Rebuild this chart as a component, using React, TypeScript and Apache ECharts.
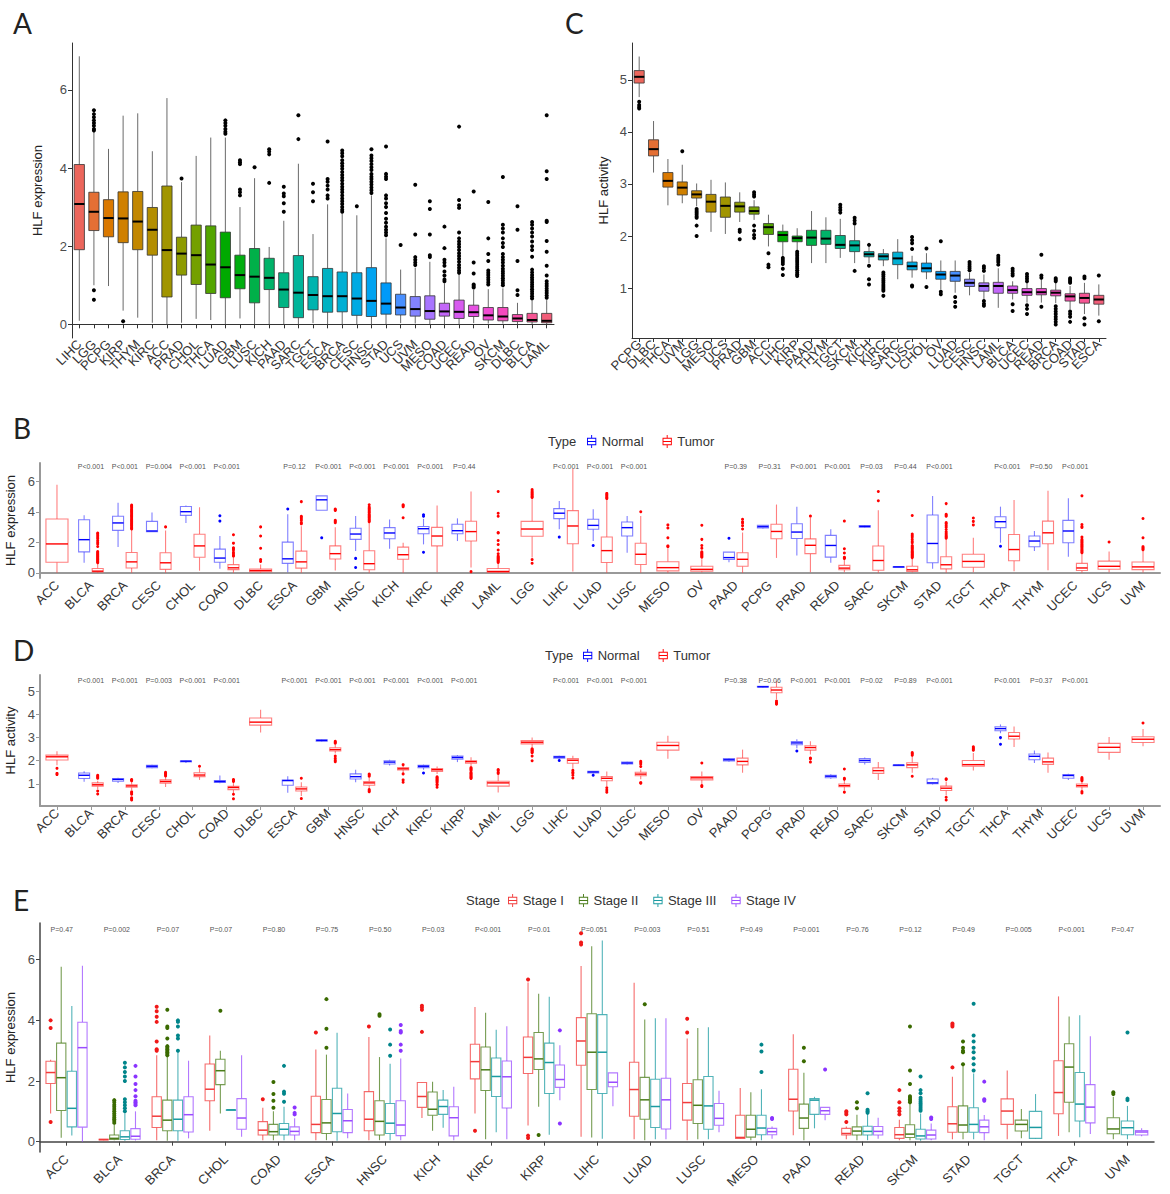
import React, { useEffect, useRef } from 'react';
import * as echarts from 'echarts';

// ---------- Panel A: HLF expression by cancer type ----------
const catsA = ['LIHC','LGG','PCPG','KIRP','THYM','KIRC','ACC','PRAD','CHOL','THCA','LUAD','GBM','LUSC','KICH','PAAD','SARC','TGCT','ESCA','BRCA','CESC','HNSC','STAD','UCS','UVM','MESO','COAD','UCEC','READ','OV','SKCM','DLBC','BLCA','LAML'];
// [low whisker, Q1, median, Q3, high whisker]
const boxA = [
  [0.09,1.91,3.08,4.09,6.86],[1.0,2.40,2.88,3.38,4.94],[0.98,2.24,2.72,3.19,4.49],[0.35,2.09,2.71,3.39,5.34],
  [0.17,1.91,2.63,3.40,5.40],[0.04,1.77,2.42,2.99,4.43],[0.0,0.70,1.90,3.54,5.79],[0.04,1.26,1.81,2.23,3.64],
  [0.14,1.02,1.77,2.54,4.31],[0.11,0.79,1.53,2.52,4.78],[0.0,0.68,1.46,2.36,4.78],[0.15,0.91,1.26,1.77,3.0],
  [0.0,0.55,1.22,1.94,3.74],[0.0,0.89,1.19,1.69,1.98],[0.0,0.43,0.89,1.32,2.65],[0.0,0.17,0.81,1.76,4.11],
  [0.03,0.37,0.75,1.22,2.31],[0.0,0.31,0.72,1.43,3.07],[0.0,0.32,0.72,1.34,2.83],[0.0,0.23,0.66,1.32,2.79],
  [0.0,0.2,0.60,1.45,3.3],[0.0,0.26,0.53,1.06,2.2],[0.03,0.24,0.43,0.77,1.4],[0.02,0.21,0.39,0.71,1.45],
  [0.0,0.13,0.34,0.73,1.6],[0.0,0.21,0.33,0.54,1.05],[0.0,0.15,0.32,0.62,1.3],[0.03,0.2,0.31,0.49,0.88],
  [0.02,0.11,0.23,0.43,0.9],[0.02,0.09,0.2,0.43,0.92],[0.0,0.07,0.15,0.25,0.55],[0.0,0.06,0.11,0.28,0.6],
  [0.0,0.04,0.09,0.28,0.62]
];
const outA = [
  [],[5.48,5.38,5.3,5.22,5.15,5.08,5.0,4.96,0.87,0.63],[],[0.08],[],[],[],[3.73],[],[],
  [5.22,5.15,5.08,5.0,4.93,4.88],[4.2,4.15,4.1,3.45,3.38,3.3],[4.02],[4.48,4.42,4.35,3.62],
  [3.52,3.35,3.28,3.1,2.88],[5.35,4.74],[3.6,3.38,3.15],[4.68,3.72,3.65,3.55,3.45,3.3,3.22],
  [4.45,4.38,4.3,4.2,4.12,4.05,3.98,3.9,3.82,3.75,3.68,3.6,3.52,3.45,3.38,3.3,3.22,3.15,3.08,3.0,2.93,2.88],
  [3.02],
  [4.48,4.32,4.25,4.18,4.1,4.02,3.95,3.85,3.78,3.72,3.65,3.58,3.5,3.43,3.36],
  [4.55,3.85,3.78,3.72,3.3,3.22,3.1,3.0,2.85,2.7,2.6,2.5,2.42,2.35,2.28],
  [2.03],[3.57,2.3,1.72,1.65,1.58,1.52],[3.15,2.95,2.3,1.77,1.72],[2.5,1.95,1.65,1.58,1.5,1.35,1.25,1.15,1.1],
  [5.06,3.18,3.05,2.98,2.35,2.2,2.12,2.05,1.98,1.9,1.82,1.75,1.68,1.6,1.52,1.45,1.38,1.32],
  [3.4,1.58,1.3,1.02,0.98,0.94],
  [3.13,2.2,1.8,1.62,1.38,1.32,1.26,1.2,1.14,1.08,1.02],
  [3.77,2.55,2.45,2.35,2.2,2.08,1.98,1.8,1.72,1.65,1.58,1.5,1.42,1.36,1.3,1.24,1.18,1.12,1.06,1.0],
  [3.02,2.42,1.62,0.87,0.75],
  [2.62,2.55,2.45,2.35,2.25,2.12,2.0,1.9,1.73,1.4,1.33,1.26,1.2,1.14,1.08,1.02,0.96,0.9,0.84,0.78,0.72,0.66],
  [5.35,3.92,3.72,2.65,2.62,2.13,1.86,1.5,1.25,1.1,1.04,0.98,0.92,0.86,0.8,0.74,0.68]
];
const ticksA = [0, 2, 4, 6];

// ---------- Panel C: HLF activity by cancer type ----------
const catsC = ['PCPG','DLBC','THCA','UVM','LGG','MESO','UCS','PRAD','GBM','ACC','LIHC','KIRP','PAAD','THYM','TGCT','SKCM','KICH','KIRC','SARC','LUSC','CHOL','OV','LUAD','CESC','HNSC','LAML','BLCA','UCEC','READ','BRCA','COAD','STAD','ESCA'];
const boxC = [
  [4.67,4.94,5.06,5.18,5.45],[3.22,3.54,3.67,3.85,4.21],[2.59,2.94,3.06,3.22,3.48],[2.63,2.79,2.93,3.04,3.37],
  [2.57,2.73,2.80,2.87,3.01],[2.08,2.46,2.66,2.80,3.08],[2.04,2.36,2.58,2.75,3.03],[2.27,2.46,2.57,2.65,2.84],
  [2.31,2.42,2.48,2.56,2.69],[1.80,2.03,2.17,2.24,2.41],[1.62,1.89,2.02,2.09,2.22],[1.74,1.89,1.96,2.0,2.15],
  [1.48,1.82,1.97,2.11,2.48],[1.48,1.84,1.95,2.11,2.36],[1.58,1.76,1.83,2.01,2.33],[1.48,1.70,1.82,1.91,2.2],
  [1.48,1.60,1.65,1.70,1.8],[1.42,1.54,1.61,1.66,1.75],[1.17,1.45,1.57,1.69,1.94],[1.2,1.35,1.42,1.50,1.62],
  [1.17,1.31,1.38,1.48,1.67],[0.97,1.17,1.26,1.32,1.53],[0.91,1.13,1.24,1.32,1.53],[0.86,1.03,1.10,1.17,1.29],
  [0.78,0.94,1.04,1.10,1.26],[0.62,0.90,1.04,1.11,1.38],[0.78,0.90,0.96,1.04,1.13],[0.72,0.86,0.92,0.99,1.1],
  [0.72,0.87,0.92,0.99,1.17],[0.71,0.85,0.91,0.96,1.11],[0.59,0.75,0.84,0.89,1.04],[0.5,0.71,0.81,0.90,1.1],
  [0.47,0.69,0.78,0.86,1.07]
];
const outC = [
  [4.58,4.52,4.48,4.45],[],[],[3.63],[2.52,2.48,2.45,2.42,2.38,2.35,2.2,2.0],[],[],[2.12,2.08,1.94],
  [2.84,2.8,2.76,2.2,2.1,2.02,1.96],[1.67,1.45,1.4],[1.58,1.54,1.5,1.46,1.37,1.25],
  [1.7,1.66,1.62,1.58,1.54,1.5,1.46,1.42,1.38,1.34,1.3,1.26,1.23],[],[],[2.6,2.55,2.5,2.45],
  [2.35,2.3,2.24,1.33],[1.83,1.43,1.17,1.07],[1.3,1.26,1.22,1.18,1.14,1.1,1.06,1.02,0.98,0.95,0.85],[],
  [1.98,1.92,1.86,1.75,1.05,1.03],[1.76,1.02],[1.9,0.93,0.88],[0.83,0.73,0.64],[1.5,1.46,1.42,1.38,1.34],
  [1.42,1.38,1.33,0.75,0.70,0.66],[1.62,1.58,1.54,1.5,1.45],[1.37,1.33,1.28,1.24,0.69,0.56],
  [1.27,1.22,1.18,1.13,0.67,0.6,0.5],[1.64,1.24,1.2,0.64],[1.19,1.16,1.13,0.65,0.6,0.55,0.5,0.45,0.4,0.35,0.3],
  [1.19,1.16,1.13,1.1,0.55,0.5,0.45,0.35],[1.22,1.19,0.42,0.3],[1.24,0.36]
];
const ticksC = [1, 2, 3, 4, 5];

// ---------- Panels B & D: Normal vs Tumor ----------
const catsBD = ['ACC','BLCA','BRCA','CESC','CHOL','COAD','DLBC','ESCA','GBM','HNSC','KICH','KIRC','KIRP','LAML','LGG','LIHC','LUAD','LUSC','MESO','OV','PAAD','PCPG','PRAD','READ','SARC','SKCM','STAD','TGCT','THCA','THYM','UCEC','UCS','UVM'];
const normalB: (number[] | null)[] = [
  null,[0.66,1.38,2.18,3.49,3.78],[1.69,2.79,3.28,3.72,4.6],[2.68,2.70,2.75,3.38,3.96],[3.28,3.78,4.02,4.36,4.42],
  [0.26,0.70,0.97,1.56,2.42],null,[0.04,0.62,0.92,2.02,3.85],[4.11,4.11,4.8,5.06,5.06],[1.43,2.2,2.55,2.93,3.74],
  [1.58,2.24,2.62,2.97,3.5],[1.87,2.57,2.9,3.05,3.55],[2.09,2.57,2.77,3.19,3.58],null,null,[2.86,3.56,3.92,4.22,4.72],
  [2.09,2.86,3.12,3.52,4.18],[1.32,2.42,2.97,3.34,3.74],null,null,[0.7,0.88,1.0,1.36,1.36],[2.92,2.95,3.03,3.12,3.14],
  [1.14,2.26,2.68,3.23,4.35],[0.66,1.03,1.8,2.46,2.86],[2.97,3.0,3.05,3.1,3.12],[0.38,0.38,0.39,0.4,0.4],
  [0.26,0.66,1.93,3.8,5.05],null,[1.98,2.97,3.36,3.69,4.35],[1.43,1.71,2.09,2.42,2.75],[1.05,1.98,2.75,3.45,4.9],null,null
];
const normalOutB = [
  [],[],[],[],[],[3.75,3.4],[],[4.2],[2.3],[0.95,0.35],[],[3.82,3.72,1.35],[],[],[],[2.35],[1.8],[],[],[],[2.27],[],[],[],[],[],[],[],[1.75],[],[],[],[]
];
const pB = ['','P<0.001','P<0.001','P=0.004','P<0.001','P<0.001','','P=0.12','P<0.001','P<0.001','P<0.001','P<0.001','P=0.44','','','P<0.001','P<0.001','P<0.001','','','P=0.39','P=0.31','P<0.001','P<0.001','P=0.03','P=0.44','P<0.001','','P<0.001','P=0.50','P<0.001','',''];
const ticksB = [0, 2, 4, 6];

const normalD: (number[] | null)[] = [
  null,[1.09,1.23,1.37,1.47,1.54],[1.04,1.11,1.19,1.23,1.26],[1.67,1.70,1.76,1.80,1.83],[1.9,1.95,1.98,1.99,2.0],
  [1.02,1.06,1.1,1.14,1.36],null,[0.61,0.94,1.14,1.16,1.33],[2.83,2.85,2.88,2.91,2.93],[1.07,1.21,1.31,1.43,1.61],
  [1.79,1.86,1.94,2.0,2.04],[1.61,1.70,1.76,1.80,1.83],[1.94,2.07,2.14,2.2,2.24],null,null,[2.04,2.11,2.16,2.19,2.22],
  [1.45,1.47,1.51,1.54,1.56],[1.84,1.86,1.9,1.94,1.96],null,null,[1.96,1.99,2.04,2.09,2.12],[5.17,5.19,5.2,5.22,5.23],
  [2.54,2.69,2.77,2.83,2.93],[1.22,1.26,1.33,1.37,1.41],[1.84,1.93,2.01,2.09,2.14],[1.80,1.80,1.81,1.81,1.82],
  [0.97,1.0,1.04,1.21,1.26],null,[3.19,3.3,3.39,3.47,3.57],[1.9,2.04,2.19,2.29,2.44],[1.16,1.24,1.36,1.4,1.44],null,null
];
const normalOutD = [
  [],[],[],[],[],[],[],[],[],[],[],[1.47],[],[],[],[2.01],[1.37],[],[],[],[],[],[2.42],[],[],[],[],[],[3.0,2.71],[],[],[],[]
];
const pD = ['','P<0.001','P<0.001','P=0.003','P<0.001','P<0.001','','P<0.001','P<0.001','P<0.001','P<0.001','P<0.001','P<0.001','','','P<0.001','P<0.001','P<0.001','','','P=0.38','P=0.06','P<0.001','P<0.001','P=0.02','P=0.89','P<0.001','','P<0.001','P=0.37','P<0.001','',''];
const ticksD = [1, 2, 3, 4, 5];

// ---------- Panel E: by stage ----------
const catsE = ['ACC','BLCA','BRCA','CHOL','COAD','ESCA','HNSC','KICH','KIRC','KIRP','LIHC','LUAD','LUSC','MESO','PAAD','READ','SKCM','STAD','TGCT','THCA','UVM'];
const stageNames = ['Stage I','Stage II','Stage III','Stage IV'];
const stageI: (number[] | null)[] = [
  [0.93,1.92,2.28,2.65,2.7],[0.05,0.06,0.07,0.08,0.08],[0.05,0.47,0.84,1.48,2.85],[0.36,1.35,1.73,2.56,3.5],
  [0.05,0.22,0.38,0.66,1.12],[0.05,0.3,0.57,1.5,3.04],[0.05,0.36,0.74,1.65,3.45],[0.78,1.13,1.49,1.95,1.97],
  [0.93,2.07,2.64,3.21,4.44],[0.53,2.25,2.78,3.45,5.25],[0.16,2.52,3.32,4.09,5.79],[0.08,0.84,1.72,2.62,5.24],
  [0.05,0.71,1.29,1.92,3.4],[0.1,0.11,0.14,0.87,1.77],[0.21,1.01,1.4,2.39,3.54],[0.08,0.22,0.27,0.44,0.5],
  [0.05,0.11,0.23,0.47,0.72],[0.08,0.31,0.59,1.15,2.14],[0.08,0.57,1.01,1.41,2.35],[0.19,0.92,1.62,2.67,4.79],null
];
const stageII: (number[] | null)[] = [
  [0.13,1.03,2.11,3.25,5.77],[0.05,0.07,0.11,0.22,0.55],[0.03,0.36,0.71,1.37,2.79],[0.93,1.88,2.34,2.72,3.0],
  [0.05,0.22,0.33,0.57,1.0],[0.05,0.27,0.62,1.39,2.87],[0.05,0.22,0.67,1.35,2.79],[0.36,0.87,1.07,1.64,1.98],
  [0.08,1.69,2.37,3.12,4.25],[1.15,2.38,2.73,3.6,4.88],[0.14,1.72,2.95,4.22,6.44],[0.05,0.74,1.38,2.12,4.03],
  [0.08,0.6,1.2,2.04,3.75],[0.05,0.15,0.41,0.87,1.63],[0.05,0.44,0.78,1.24,2.27],[0.05,0.22,0.35,0.49,0.89],
  [0.05,0.14,0.25,0.56,1.28],[0.08,0.31,0.55,1.18,2.5],[0.11,0.35,0.57,0.71,1.08],[0.31,1.3,2.46,3.23,4.13],
  [0.08,0.26,0.42,0.79,1.48]
];
const stageIII: (number[] | null)[] = [
  [0.2,0.49,1.1,2.32,4.47],[0.03,0.07,0.16,0.36,0.93],[0.03,0.36,0.74,1.37,2.95],[1.05,1.05,1.05,1.05,1.05],
  [0.05,0.22,0.41,0.6,1.15],[0.03,0.33,0.93,1.76,3.59],[0.05,0.27,0.61,1.26,2.57],[0.46,0.9,1.16,1.37,1.7],
  [0.31,1.49,2.15,2.76,3.69],[0.23,1.59,2.61,3.25,4.78],[0.1,1.59,2.95,4.19,6.63],[0.08,0.47,1.16,2.06,4.07],
  [0.08,0.41,1.18,2.15,3.77],[0.05,0.23,0.45,0.87,1.73],[0.44,0.9,1.37,1.42,1.48],[0.05,0.22,0.34,0.51,0.93],
  [0.03,0.09,0.19,0.41,0.93],[0.08,0.31,0.57,1.12,2.25],[0.09,0.11,0.47,1.0,1.57],[0.15,0.68,1.24,2.28,4.17],
  [0.08,0.23,0.46,0.68,1.18]
];
const stageIV: (number[] | null)[] = [
  [0.0,0.48,3.1,3.94,5.8],[0.04,0.08,0.18,0.43,1.0],[0.11,0.32,0.89,1.48,2.67],[0.16,0.41,0.78,1.42,2.85],
  [0.05,0.22,0.34,0.49,0.77],[0.11,0.3,0.69,1.06,1.59],[0.05,0.2,0.55,1.35,2.74],[0.05,0.19,0.79,1.15,1.81],
  [0.08,1.11,2.14,2.66,3.81],[1.37,1.79,2.05,2.53,3.18],[1.17,1.81,1.96,2.27,2.27],[0.08,0.42,1.38,2.09,4.07],
  [0.31,0.54,0.77,1.26,1.68],[0.1,0.23,0.33,0.44,0.5],[0.71,0.9,1.02,1.13,1.13],[0.1,0.22,0.34,0.5,0.79],
  [0.05,0.09,0.22,0.38,0.6],[0.05,0.3,0.49,0.71,0.88],null,[0.25,0.62,1.14,1.88,3.48],[0.18,0.22,0.32,0.37,0.44]
];
const outStageI = [
  [4.0,3.75,0.65],[],[4.45,4.3,4.12,3.95,3.3,3.05,3.0],[],[1.4],[3.6],[3.8],[4.48,4.42,4.35,3.62],[0.36],[5.35,0.2,0.12],
  [6.87,6.57,6.5],[],[4.05,3.6],[],[],[1.0,0.95,0.9,0.65],[1.7,1.3,1.1,1.0,0.9],[3.9,3.85,3.8,2.45],[],[],[]
];
const outStageII = [
  [],[1.37,1.3,1.22,1.15,1.08,1.0,0.93,0.86,0.8,0.74,0.68,0.62],[4.35,3.8,3.75,3.4,3.15,3.1,3.05,3.0,2.95,2.9,2.85],[4.32],
  [1.97,1.57,1.35,1.12],[4.7,3.72,3.1],[4.2,4.15],[],[],[0.22],[],[4.53],[],[],[3.1,2.65],[1.3,1.1],
  [3.8,2.35,1.9,1.5,1.45,1.4,1.35,1.3],[3.3,3.1,3.0,2.95,2.55],[],[],[1.63,1.57]
];
const outStageIII = [
  [],[2.6,2.45,2.3,2.15,2.0,1.4,1.3,1.2,1.1,1.0],[4.0,3.95,3.8,3.5,3.4,3.0],[],[2.5,1.65,1.58,1.32],[],[3.7,3.2,2.83],[],[],[],
  [],[],[],[3.2,2.97,2.3],[],[1.6,1.05,1.0,0.95],[2.15,1.7,1.6,1.45,1.38,1.32,1.26,1.2,1.14,1.08,1.02],
  [4.55,3.5,3.3,3.1,2.95,2.75,2.55,2.35],[],[],[3.6,1.42,1.37]
];
const outStageIV = [
  [],[2.5,2.15,1.9,1.7,1.5,1.35,1.3,1.25,1.2],[],[],[1.13,0.95,0.9],[],[3.85,3.65,3.6,3.2,3.0],[],[],[3.67,0.6],
  [],[],[],[0.78,0.75],[2.38],[],[0.8,0.75],[1.98,1.4,1.35],[],[],[]
];
const pE = ['P=0.47','P=0.002','P=0.07','P=0.07','P=0.80','P=0.75','P=0.50','P=0.03','P<0.001','P=0.01','P=0.051','P=0.003','P=0.51','P=0.49','P=0.001','P=0.76','P=0.12','P=0.49','P=0.005','P<0.001','P=0.47'];
const ticksE = [0, 2, 4, 6];

// ---------- helpers ----------
const FONT = '"Liberation Sans", Arial, sans-serif';

function hcl(h: number, c: number, l: number): string {
  const hr = (h * Math.PI) / 180;
  const U = c * Math.cos(hr), V = c * Math.sin(hr);
  const Xn = 95.047, Yn = 100, Zn = 108.883;
  const den = Xn + 15 * Yn + 3 * Zn;
  const un = (4 * Xn) / den, vn = (9 * Yn) / den;
  const Y = l > 8 ? Yn * Math.pow((l + 16) / 116, 3) : (Yn * l) / 903.3;
  const u = U / (13 * l) + un, v = V / (13 * l) + vn;
  const X = (Y * 9 * u) / (4 * v), Z = (Y * (12 - 3 * u - 20 * v)) / (4 * v);
  const x = X / 100, y = Y / 100, z = Z / 100;
  const lin = [
    3.2404542 * x - 1.5371385 * y - 0.4985314 * z,
    -0.969266 * x + 1.8760108 * y + 0.041556 * z,
    0.0556434 * x - 0.2040259 * y + 1.0572252 * z,
  ];
  return '#' + lin.map((cc) => {
    let g = cc <= 0.0031308 ? 12.92 * cc : 1.055 * Math.pow(Math.max(cc, 0), 1 / 2.4) - 0.055;
    g = Math.min(1, Math.max(0, g));
    return Math.round(g * 255).toString(16).padStart(2, '0');
  }).join('');
}
const huePalette = (n: number) => Array.from({ length: n }, (_, i) => hcl(15 + (360 * i) / n, 105, 60));

type BoxStyle = {
  stroke: (k: number) => string; fill: (k: number) => string; median: (k: number) => string;
  whisker: (k: number) => string; lw: number; medW: number; boxFrac: number; dodgeFrac: number;
};

const slotX = (api: any, ci: number, slot: number, n: number, dodgeFrac: number) => {
  const band = api.size([1, 0])[0];
  const c0 = api.coord([ci, 0])[0];
  const dodge = dodgeFrac * band;
  return { cx: c0 - dodge / 2 + (dodge / n) * (slot + 0.5), band };
};

const boxRender = (s: BoxStyle) => (params: any, api: any) => {
  const ci = api.value(0), slot = api.value(1), n = api.value(2), k = api.value(8);
  const { cx, band } = slotX(api, ci, slot, n, s.dodgeFrac);
  const bw = (s.boxFrac * band) / n;
  const Y = (d: number) => api.coord([ci, api.value(d)])[1];
  const yl = Y(3), y1 = Y(4), ym = Y(5), y3 = Y(6), yh = Y(7);
  return {
    type: 'group',
    children: [
      { type: 'line', shape: { x1: cx, y1: yh, x2: cx, y2: y3 }, style: { stroke: s.whisker(k), lineWidth: s.lw } },
      { type: 'line', shape: { x1: cx, y1: y1, x2: cx, y2: yl }, style: { stroke: s.whisker(k), lineWidth: s.lw } },
      { type: 'rect', shape: { x: cx - bw / 2, y: y3, width: bw, height: Math.max(y1 - y3, 0.6) }, style: { fill: s.fill(k), stroke: s.stroke(k), lineWidth: s.lw } },
      { type: 'line', shape: { x1: cx - bw / 2, y1: ym, x2: cx + bw / 2, y2: ym }, style: { stroke: s.median(k), lineWidth: s.medW } },
    ],
  };
};

const outRender = (color: (k: number) => string, r: number, dodgeFrac: number) => (params: any, api: any) => {
  const ci = api.value(0), slot = api.value(1), n = api.value(2), k = api.value(4);
  const { cx } = slotX(api, ci, slot, n, dodgeFrac);
  const cy = api.coord([ci, api.value(3)])[1];
  return { type: 'circle', shape: { cx, cy, r }, style: { fill: color(k) } };
};

const pRender = (texts: string[], align: string, offFrac: number) => (params: any, api: any) => {
  const ci = api.value(0);
  const p = api.coord([ci, api.value(1)]);
  const band = api.size([1, 0])[0];
  return {
    type: 'text', x: p[0] + offFrac * band, y: p[1],
    style: { text: texts[params.dataIndex], fontSize: 7, fontFamily: FONT, fill: '#555', align, verticalAlign: 'middle' },
  };
};

const boxIcon = 'path://M6.5,0 h1 v3 h-1 Z M2,3 h10 v8 h-10 Z M3,4 v6 h8 v-6 Z M3,6.5 h8 v1 h-8 Z M6.5,11 h1 v3 h-1 Z';

export default function App() {
  const ref = useRef<HTMLDivElement>(null);
  useEffect(() => {
    document.body.style.margin = '0';
    if (!ref.current) return;
    const chart = echarts.init(ref.current, undefined, { renderer: 'svg' });

    const pal = huePalette(33);
    const series: any[] = [];

    // A & C single boxes
    const singleStyle: BoxStyle = {
      stroke: () => '#333', fill: (k) => pal[k], median: () => '#000', whisker: () => '#444',
      lw: 0.8, medW: 2, boxFrac: 0.7, dodgeFrac: 0.8,
    };
    const addSingle = (boxes: number[][], outs: number[][], ax: number) => {
      series.push({
        type: 'custom', name: 'box' + ax, xAxisIndex: ax, yAxisIndex: ax, renderItem: boxRender(singleStyle),
        data: boxes.map((b, i) => [i, 0, 1, ...b, i]), clip: false, silent: true,
      });
      const od: number[][] = [];
      outs.forEach((o, i) => o.forEach((v) => od.push([i, 0, 1, v, i])));
      series.push({
        type: 'custom', name: 'out' + ax, xAxisIndex: ax, yAxisIndex: ax, renderItem: outRender(() => '#000', 2, 0.8),
        data: od, clip: false, silent: true,
      });
    };
    addSingle(boxA, outA, 0);
    addSingle(boxC, outC, 1);

    // B & D Normal vs Tumor
    const ntColors = ['#0000FF', '#FF0000'];
    const ntLight = ['rgba(60,60,255,0.65)', 'rgba(255,60,60,0.65)'];
    const ntStyle: BoxStyle = {
      stroke: (k) => ntLight[k], fill: () => '#fff', median: (k) => ntColors[k], whisker: (k) => ntLight[k],
      lw: 1.1, medW: 1.4, boxFrac: 0.65, dodgeFrac: 0.8,
    };
    const addNT = (normal: (number[] | null)[], normalOut: number[][], tumorCats: string[], tumorBox: number[][], tumorOut: number[][], pv: string[], pY: number, ax: number) => {
      const nb: number[][] = [], no: number[][] = [], tb: number[][] = [], to: number[][] = [];
      catsBD.forEach((cat, i) => {
        const nrm = normal[i];
        const n = nrm ? 2 : 1;
        if (nrm) {
          nb.push([i, 0, n, ...nrm, 0]);
          normalOut[i].forEach((v) => no.push([i, 0, n, v, 0]));
        }
        const ti = tumorCats.indexOf(cat);
        tb.push([i, n - 1, n, ...tumorBox[ti], 1]);
        tumorOut[ti].forEach((v) => to.push([i, n - 1, n, v, 1]));
      });
      series.push(
        { type: 'custom', name: 'Normal', itemStyle: { color: ntColors[0] }, xAxisIndex: ax, yAxisIndex: ax, renderItem: boxRender(ntStyle), data: nb, clip: false, silent: true },
        { type: 'custom', name: 'Tumor', itemStyle: { color: ntColors[1] }, xAxisIndex: ax, yAxisIndex: ax, renderItem: boxRender(ntStyle), data: tb, clip: false, silent: true },
        { type: 'custom', name: 'nout' + ax, xAxisIndex: ax, yAxisIndex: ax, renderItem: outRender((k) => ntColors[k], 1.5, 0.8), data: no, clip: false, silent: true },
        { type: 'custom', name: 'tout' + ax, xAxisIndex: ax, yAxisIndex: ax, renderItem: outRender((k) => ntColors[k], 1.5, 0.8), data: to, clip: false, silent: true },
      );
      const texts: string[] = [], pd: number[][] = [];
      pv.forEach((t, i) => { if (t) { texts.push(t); pd.push([i, pY]); } });
      series.push({ type: 'custom', name: 'p' + ax, xAxisIndex: ax, yAxisIndex: ax, renderItem: pRender(texts, 'center', 0), data: pd, clip: false, silent: true });
    };
    addNT(normalB, normalOutB, catsA, boxA, outA, pB, 7.02, 2);
    addNT(normalD, normalOutD, catsC, boxC, outC, pD, 5.49, 3);

    // E stages
    const stColors = ['#F23B3B', '#4A7C1A', '#1A9BA1', '#9A4CFF'];
    const stLight = ['rgba(242,59,59,0.75)', 'rgba(74,124,26,0.75)', 'rgba(26,155,161,0.75)', 'rgba(154,76,255,0.75)'];
    const stOut = ['#F01818', '#3A6A00', '#00858A', '#8A33FF'];
    const stStyle: BoxStyle = {
      stroke: (k) => stLight[k], fill: () => '#fff', median: (k) => stColors[k], whisker: (k) => stLight[k],
      lw: 1.1, medW: 1.5, boxFrac: 0.7, dodgeFrac: 0.8,
    };
    const stages = [stageI, stageII, stageIII, stageIV];
    const stageOuts = [outStageI, outStageII, outStageIII, outStageIV];
    const eb: number[][][] = [[], [], [], []], eo: number[][][] = [[], [], [], []];
    catsE.forEach((_, i) => {
      const present = [0, 1, 2, 3].filter((s) => stages[s][i]);
      const n = present.length;
      present.forEach((s, slot) => {
        eb[s].push([i, slot, n, ...(stages[s][i] as number[]), s]);
        stageOuts[s][i].forEach((v) => eo[s].push([i, slot, n, v, s]));
      });
    });
    stageNames.forEach((nm, s) => {
      series.push({ type: 'custom', name: nm, itemStyle: { color: stColors[s] }, xAxisIndex: 4, yAxisIndex: 4, renderItem: boxRender(stStyle), data: eb[s], clip: false, silent: true });
    });
    stageNames.forEach((nm, s) => {
      series.push({ type: 'custom', name: 'eo' + s, xAxisIndex: 4, yAxisIndex: 4, renderItem: outRender((k) => stOut[k], 2, 0.8), data: eo[s], clip: false, silent: true });
    });
    series.push({ type: 'custom', name: 'pE', xAxisIndex: 4, yAxisIndex: 4, renderItem: pRender(pE, 'left', -0.3), data: pE.map((_, i) => [i, 6.98]), clip: false, silent: true });

    const grids = [
      { left: 72, top: 43, width: 482, height: 295 },
      { left: 632, top: 43, width: 474, height: 295 },
      { left: 40, top: 463, width: 1120, height: 115 },
      { left: 40, top: 675, width: 1120, height: 131 },
      { left: 40, top: 923, width: 1114, height: 229 },
    ].map((g) => ({ ...g, containLabel: false, outerBoundsMode: 'none' }));

    const xAxis = (cats: string[], gi: number, fs: number, lineColor: string, lw: number, showTick: boolean, margin: number) => ({
      type: 'category', gridIndex: gi, data: cats, boundaryGap: true,
      axisLine: { lineStyle: { color: lineColor, width: lw } },
      axisTick: { show: showTick, alignWithLabel: true, length: 4, lineStyle: { color: lineColor } },
      axisLabel: { rotate: 45, interval: 0, fontSize: fs, color: '#333', fontFamily: FONT, margin },
      splitLine: { show: false },
    });
    const yAxis = (gi: number, min: number, max: number, ticks: number[], name: string, gap: number, fs: number, lineColor: string, lw: number) => ({
      type: 'value', gridIndex: gi, min, max,
      name, nameLocation: 'middle', nameGap: gap, nameRotate: 90,
      nameTextStyle: { fontSize: fs, color: '#222', fontFamily: FONT },
      axisLine: { show: true, lineStyle: { color: lineColor, width: lw } },
      axisTick: { show: true, length: 4, customValues: ticks, lineStyle: { color: lineColor } },
      axisLabel: { customValues: ticks, fontSize: fs, color: '#4d4d4d', fontFamily: FONT, margin: 5 },
      splitLine: { show: false },
    });

    const legendBase = {
      icon: boxIcon, itemWidth: 10, itemHeight: 13, itemGap: 19, orient: 'horizontal',
      textStyle: { fontSize: 13, color: '#333', fontFamily: FONT }, selectedMode: false,
    };

    const letter = (t: string, x: number, y: number) => ({
      type: 'text', x, y, style: { text: t, fontSize: 28, fontFamily: 'Lato, "Open Sans", sans-serif', fill: '#222', verticalAlign: 'middle' },
    });
    const smallText = (t: string, x: number, y: number) => ({
      type: 'text', x, y, style: { text: t, fontSize: 13, fontFamily: FONT, fill: '#333', verticalAlign: 'middle' },
    });

    chart.setOption({
      animation: false,
      backgroundColor: '#fff',
      grid: grids,
      xAxis: [
        xAxis(catsA, 0, 13, '#333', 1, true, 4),
        xAxis(catsC, 1, 13, '#333', 1, true, 4),
        xAxis(catsBD, 2, 13, '#999', 2, false, 5),
        xAxis(catsBD, 3, 13, '#999', 2, true, 5),
        xAxis(catsE, 4, 13, '#444', 1.5, true, 5),
      ],
      yAxis: [
        yAxis(0, -0.35, 7.2, ticksA, 'HLF expression', 28, 13, '#333', 1),
        yAxis(1, 0.04, 5.71, ticksC, 'HLF activity', 22, 13, '#333', 1),
        yAxis(2, -0.34, 7.22, ticksB, 'HLF expression', 17, 13, '#999', 2),
        yAxis(3, 0.04, 5.71, ticksD, 'HLF activity', 17, 13, '#999', 2),
        yAxis(4, -0.34, 7.21, ticksE, 'HLF expression', 17, 13, '#444', 1.5),
      ],
      legend: [
        { ...legendBase, left: 582, top: 430, data: ['Normal', 'Tumor'] },
        { ...legendBase, left: 578, top: 644, data: ['Normal', 'Tumor'] },
        { ...legendBase, itemGap: 15, left: 503, top: 889, data: stageNames },
      ],
      graphic: [
        letter('A', 13, 23), letter('C', 565, 23), letter('B', 13, 428), letter('D', 13, 650), letter('E', 13, 900),
        smallText('Type', 548, 441), smallText('Type', 545, 655), smallText('Stage', 466, 900),
      ],
      series,
    });
    return () => chart.dispose();
  }, []);
  return <div ref={ref} style={{ width: 1170, height: 1194 }} />;
}
